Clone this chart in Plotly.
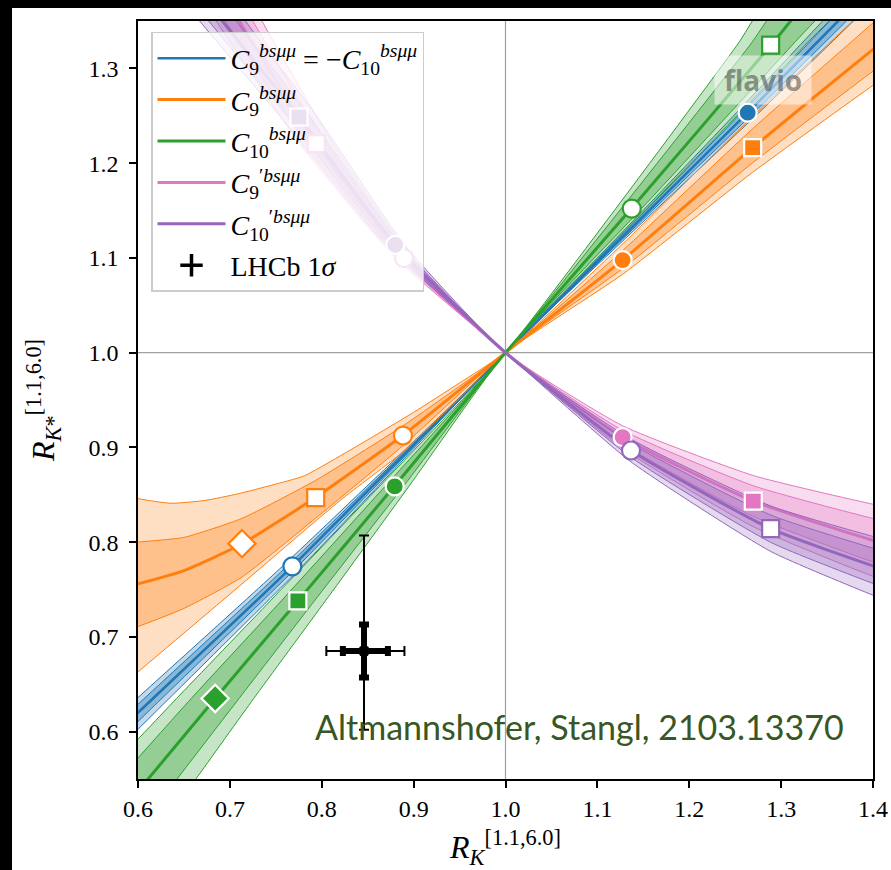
import plotly.graph_objects as go

# ---------------- data ----------------
x_ticks = [0.6, 0.7, 0.8, 0.9, 1.0, 1.1, 1.2, 1.3, 1.4]
y_ticks = [0.6, 0.7, 0.8, 0.9, 1.0, 1.1, 1.2, 1.3]

series_names = [
    "<i>C</i><sub>9</sub><sup><i>bsμμ</i></sup> = −<i>C</i><sub>10</sub><sup><i>bsμμ</i></sup>",
    "<i>C</i><sub>9</sub><sup><i>bsμμ</i></sup>",
    "<i>C</i><sub>10</sub><sup><i>bsμμ</i></sup>",
    "<i>C</i><sub>9</sub><sup>′<i>bsμμ</i></sup>",
    "<i>C</i><sub>10</sub><sup>′<i>bsμμ</i></sup>",
]

# C9 = -C10 (blue)
blue_x = [0.55, 0.6, 0.768, 1.0, 1.2636, 1.362, 1.42]
blue_y = [0.574, 0.62, 0.7745, 1.0, 1.2532, 1.35, 1.407]
blue_2s_a_x = [0.5296, 0.5818, 0.7572, 1.0, 1.2514, 1.3452, 1.4005]
blue_2s_b_x = [0.5704, 0.6182, 0.7788, 1.0, 1.2758, 1.3788, 1.4395]
blue_1s_a_x = [0.5389, 0.5901, 0.7621, 1.0, 1.2570, 1.3529, 1.4094]
blue_1s_b_x = [0.5611, 0.6099, 0.7739, 1.0, 1.2702, 1.3711, 1.4306]
blue_mk_x = [0.768, 1.2636]
blue_mk_y = [0.7745, 1.2532]
blue_mk_sym = ["circle", "circle"]
blue_mk_fill = [False, True]

# C9 (orange)
orange_x = [0.55, 0.6, 0.65, 0.713, 0.793, 0.888, 1.0, 1.1275, 1.269, 1.4, 1.45]
orange_y = [0.749, 0.756, 0.770, 0.798, 0.847, 0.9125, 1.0, 1.0977, 1.2163, 1.32, 1.358]
orange_2s_up_x = [0.55, 0.6, 0.636, 0.673, 0.709, 0.745, 0.781, 0.85, 0.9, 0.95, 1.0, 1.1275, 1.269, 1.378, 1.45]
orange_2s_up_y = [0.862, 0.846, 0.841, 0.844, 0.851, 0.860, 0.870, 0.908, 0.937, 0.968, 1.0, 1.1147, 1.2493, 1.35, 1.413]
orange_2s_lo_x = [0.55, 0.6, 0.7, 0.82, 0.888, 0.95, 1.0, 1.1275, 1.269, 1.4, 1.45]
orange_2s_lo_y = [0.622, 0.663, 0.745, 0.844, 0.895, 0.952, 1.0, 1.0827, 1.1903, 1.282, 1.315]
orange_1s_up_y = [0.795, 0.800, 0.805, 0.825, 0.865, 0.9225, 1.0, 1.1077, 1.2363, 1.348, 1.390]
orange_1s_lo_y = [0.697, 0.711, 0.730, 0.763, 0.825, 0.9015, 1.0, 1.0887, 1.2003, 1.297, 1.332]
orange_mk_x = [0.7132, 0.7934, 0.8884, 1.1275, 1.269]
orange_mk_y = [0.7984, 0.8469, 0.9125, 1.0977, 1.2163]
orange_mk_sym = ["diamond", "square", "circle", "circle", "square"]
orange_mk_fill = [False, False, False, True, True]

# C10 (green)
green_x = [0.525, 0.611, 0.684, 0.774, 0.879, 1.0, 1.137, 1.289, 1.36]
green_y = [0.45, 0.55, 0.635, 0.738, 0.859, 1.0, 1.152, 1.3245, 1.41]
green_2s_a_x = [0.462, 0.559, 0.642, 0.744, 0.863, 1.0, 1.120, 1.252, 1.313]
green_2s_b_x = [0.588, 0.663, 0.726, 0.804, 0.895, 1.0, 1.154, 1.326, 1.407]
green_1s_a_x = [0.4865, 0.5795, 0.658, 0.756, 0.869, 1.0, 1.126, 1.266, 1.331]
green_1s_b_x = [0.5635, 0.6425, 0.710, 0.792, 0.889, 1.0, 1.148, 1.312, 1.389]
green_mk_x = [0.684, 0.774, 0.8794, 1.1374, 1.2886]
green_mk_y = [0.635, 0.738, 0.8588, 1.152, 1.3245]
green_mk_sym = ["diamond", "square", "circle", "circle", "square"]
green_mk_fill = [True, True, True, False, False]

# C9' (pink)
pink_x = [0.68, 0.71, 0.794, 0.8895, 1.0, 1.1275, 1.2697, 1.4, 1.45]
pink_y = [1.40, 1.35, 1.2206, 1.0998, 1.0, 0.9108, 0.8433, 0.802, 0.79]
pink_2s_a_x = [0.71, 0.735, 0.812, 0.8985, 1.0, 1.1275, 1.2697, 1.4, 1.45]
pink_2s_a_y = [1.40, 1.35, 1.2206, 1.0998, 1.0, 0.9228, 0.8703, 0.840, 0.831]
pink_2s_b_x = [0.65, 0.685, 0.776, 0.8805, 1.0, 1.1275, 1.2697, 1.4, 1.45]
pink_2s_b_y = [1.40, 1.35, 1.2206, 1.0998, 1.0, 0.8988, 0.8163, 0.764, 0.749]
pink_1s_a_x = [0.698, 0.725, 0.8048, 0.8949, 1.0, 1.1275, 1.2697, 1.4, 1.45]
pink_1s_a_y = [1.40, 1.35, 1.2206, 1.0998, 1.0, 0.918, 0.8595, 0.825, 0.815]
pink_1s_b_x = [0.662, 0.695, 0.7832, 0.8841, 1.0, 1.1275, 1.2697, 1.4, 1.45]
pink_1s_b_y = [1.40, 1.35, 1.2206, 1.0998, 1.0, 0.9036, 0.8271, 0.779, 0.765]
pink_mk_x = [0.794, 0.8895, 1.1275, 1.2697]
pink_mk_y = [1.2206, 1.0998, 0.9108, 0.8433]
pink_mk_sym = ["square", "circle", "circle", "square"]
pink_mk_fill = [False, False, True, True]

# C10' (purple)
purple_x = [0.655, 0.692, 0.7752, 0.880, 1.0, 1.1366, 1.2886, 1.4, 1.45]
purple_y = [1.40, 1.35, 1.2487, 1.1138, 1.0, 0.8967, 0.8142, 0.775, 0.76]
purple_2s_a_x = [0.685, 0.717, 0.7952, 0.890, 1.0, 1.1366, 1.2886, 1.4, 1.45]
purple_2s_a_y = [1.40, 1.35, 1.2487, 1.1138, 1.0, 0.9087, 0.8382, 0.806, 0.794]
purple_2s_b_x = [0.625, 0.667, 0.7552, 0.870, 1.0, 1.1366, 1.2886, 1.4, 1.45]
purple_2s_b_y = [1.40, 1.35, 1.2487, 1.1138, 1.0, 0.8847, 0.7902, 0.744, 0.726]
purple_1s_a_x = [0.673, 0.707, 0.7872, 0.886, 1.0, 1.1366, 1.2886, 1.4, 1.45]
purple_1s_a_y = [1.40, 1.35, 1.2487, 1.1138, 1.0, 0.9039, 0.8286, 0.7936, 0.7804]
purple_1s_b_x = [0.637, 0.677, 0.7632, 0.874, 1.0, 1.1366, 1.2886, 1.4, 1.45]
purple_1s_b_y = [1.40, 1.35, 1.2487, 1.1138, 1.0, 0.8895, 0.7998, 0.7564, 0.7396]
purple_mk_x = [0.7752, 0.880, 1.1366, 1.2886]
purple_mk_y = [1.2487, 1.1138, 0.8967, 0.8142]
purple_mk_sym = ["square", "circle", "circle", "square"]
purple_mk_fill = [True, True, False, False]

# LHCb measurement
lhcb_x = [0.846]
lhcb_y = [0.685]
lhcb_tot_xp, lhcb_tot_xm = [0.044], [0.041]
lhcb_tot_yp, lhcb_tot_ym = [0.122], [0.083]
lhcb_in_xp, lhcb_in_xm = [0.026], [0.023]
lhcb_in_yp, lhcb_in_ym = [0.028], [0.028]

# ---------------- styling ----------------
BLUE, ORANGE, GREEN, PINK, PURPLE = "#1f77b4", "#ff7f0e", "#2ca02c", "#e377c2", "#9467bd"
SERIF = "Liberation Serif"


def rgba(h, a):
    h = h.lstrip("#")
    return "rgba(%d,%d,%d,%.3f)" % (int(h[0:2], 16), int(h[2:4], 16), int(h[4:6], 16), a)


fig = go.Figure()


def band(ax, ay, bx, by, color, alpha, group):
    fig.add_trace(go.Scatter(
        x=list(ax) + list(bx)[::-1], y=list(ay) + list(by)[::-1],
        mode="lines", fill="toself", fillcolor=rgba(color, alpha), legendgroup=group,
        line=dict(color=color, width=1, shape="spline", smoothing=0.5),
        hoverinfo="skip", showlegend=False))


def center(x, y, color, name, rank, group, width=3):
    fig.add_trace(go.Scatter(
        x=x, y=y, mode="lines", name=name, legendrank=rank, legendgroup=group,
        line=dict(color=color, width=width, shape="spline", smoothing=0.5),
        hoverinfo="skip", showlegend=True))


def markers(x, y, syms, fills, color, group):
    sizes = {"circle": 18, "square": 17, "diamond": 21}
    fig.add_trace(go.Scatter(
        x=x, y=y, mode="markers", showlegend=False, hoverinfo="skip", legendgroup=group,
        marker=dict(symbol=syms, size=[sizes[s] for s in syms], opacity=1,
                    color=[color if f else "white" for f in fills],
                    line=dict(color=["white" if f else color for f in fills], width=2.2))))


# blue
band(blue_2s_a_x, blue_y, blue_2s_b_x, blue_y, BLUE, 0.28, "g1")
band(blue_1s_a_x, blue_y, blue_1s_b_x, blue_y, BLUE, 0.35, "g1")
center(blue_x, blue_y, BLUE, series_names[0], 1, "g1", 2.5)
# orange
band(orange_2s_up_x, orange_2s_up_y, orange_2s_lo_x, orange_2s_lo_y, ORANGE, 0.25, "g2")
band(orange_x, orange_1s_up_y, orange_x, orange_1s_lo_y, ORANGE, 0.3, "g2")
center(orange_x, orange_y, ORANGE, series_names[1], 2, "g2")
# green
band(green_2s_a_x, green_y, green_2s_b_x, green_y, GREEN, 0.27, "g3")
band(green_1s_a_x, green_y, green_1s_b_x, green_y, GREEN, 0.32, "g3")
center(green_x, green_y, GREEN, series_names[2], 3, "g3")
# pink
band(pink_2s_a_x, pink_2s_a_y, pink_2s_b_x, pink_2s_b_y, PINK, 0.25, "g4")
band(pink_1s_a_x, pink_1s_a_y, pink_1s_b_x, pink_1s_b_y, PINK, 0.3, "g4")
center(pink_x, pink_y, PINK, series_names[3], 4, "g4")
# purple
band(purple_2s_a_x, purple_2s_a_y, purple_2s_b_x, purple_2s_b_y, PURPLE, 0.25, "g5")
band(purple_1s_a_x, purple_1s_a_y, purple_1s_b_x, purple_1s_b_y, PURPLE, 0.3, "g5")
center(purple_x, purple_y, PURPLE, series_names[4], 5, "g5")

markers(blue_mk_x, blue_mk_y, blue_mk_sym, blue_mk_fill, BLUE, "g1")
markers(orange_mk_x, orange_mk_y, orange_mk_sym, orange_mk_fill, ORANGE, "g2")
markers(green_mk_x, green_mk_y, green_mk_sym, green_mk_fill, GREEN, "g3")
markers(pink_mk_x, pink_mk_y, pink_mk_sym, pink_mk_fill, PINK, "g4")
markers(purple_mk_x, purple_mk_y, purple_mk_sym, purple_mk_fill, PURPLE, "g5")

# LHCb point: total (thin) and inner (thick) error bars
fig.add_trace(go.Scatter(
    x=lhcb_x, y=lhcb_y, mode="markers", showlegend=False, hoverinfo="skip", legendgroup="g6",
    marker=dict(color="black", size=9),
    error_x=dict(type="data", array=lhcb_tot_xp, arrayminus=lhcb_tot_xm, color="black", thickness=2, width=5),
    error_y=dict(type="data", array=lhcb_tot_yp, arrayminus=lhcb_tot_ym, color="black", thickness=2, width=5)))
fig.add_trace(go.Scatter(
    x=lhcb_x, y=lhcb_y, mode="markers", showlegend=False, hoverinfo="skip", legendgroup="g6",
    marker=dict(color="black", size=12),
    error_x=dict(type="data", array=lhcb_in_xp, arrayminus=lhcb_in_xm, color="black", thickness=6, width=5),
    error_y=dict(type="data", array=lhcb_in_yp, arrayminus=lhcb_in_ym, color="black", thickness=6, width=5)))
fig.add_trace(go.Scatter(
    x=[None], y=[None], mode="markers", name="LHCb 1<i>σ</i>", legendrank=6, legendgroup="g6",
    marker=dict(symbol="cross-thin", size=26, color="black", line=dict(color="black", width=3.5))))

# reference lines at 1
fig.add_shape(type="line", xref="x", yref="paper", x0=1.0, x1=1.0, y0=0, y1=1,
              line=dict(color="#a0a0a0", width=1.2), layer="below")
fig.add_shape(type="line", xref="paper", yref="y", x0=0, x1=1, y0=1.0, y1=1.0,
              line=dict(color="#a0a0a0", width=1.2), layer="below")

# black strips at the left and top of the picture
fig.add_shape(type="rect", xref="paper", yref="paper", x0=-0.2, x1=-0.1714, y0=-0.13, y1=1.04,
              fillcolor="black", line=dict(width=0), layer="below")
fig.add_shape(type="rect", xref="paper", yref="paper", x0=-0.2, x1=1.05, y0=1.0172, y1=1.04,
              fillcolor="black", line=dict(width=0), layer="below")

fig.add_annotation(x=1.0806, y=0.605, xref="x", yref="y", showarrow=False,
                   text="Altmannshofer, Stangl, 2103.13370",
                   font=dict(family="Lato", size=34, color="#385723"))
fig.add_annotation(x=1.2803, y=1.2877, xref="x", yref="y", showarrow=False,
                   text="<b>flavio</b>", width=94, height=46, bgcolor="rgba(255,255,255,0.5)",
                   font=dict(family="Open Sans", size=28, color="rgba(70,70,70,0.55)"))

fig.update_layout(
    width=891, height=870,
    margin=dict(l=138, r=18, t=21, b=91),
    paper_bgcolor="white", plot_bgcolor="white",
    font=dict(family=SERIF, color="black"),
    showlegend=True,
    legend=dict(x=0.0177, y=0.9855, xanchor="left", yanchor="top",
                bgcolor="rgba(255,255,255,0.8)", bordercolor="#cccccc", borderwidth=1.5,
                font=dict(family=SERIF, size=28), tracegroupgap=2, itemwidth=68),
    xaxis=dict(range=[0.6, 1.4], tickvals=x_ticks, ticktext=["%.1f" % v for v in x_ticks],
               ticks="outside", ticklen=7, tickwidth=1.5, tickcolor="black",
               showline=True, linecolor="black", linewidth=1.5, mirror=True,
               showgrid=False, zeroline=False, tickfont=dict(size=24),
               title=dict(text="<i>R</i><sub><i>K</i></sub><sup>[1.1,6.0]</sup>",
                          font=dict(size=32), standoff=16),
               automargin=False),
    yaxis=dict(range=[0.55, 1.35], tickvals=y_ticks, ticktext=["%.1f" % v for v in y_ticks],
               ticks="outside", ticklen=7, tickwidth=1.5, tickcolor="black",
               showline=True, linecolor="black", linewidth=1.5, mirror=True,
               showgrid=False, zeroline=False, tickfont=dict(size=24), ticklabelstandoff=6,
               title=dict(text="<i>R</i><sub><i>K</i>*</sub><sup>[1.1,6.0]</sup>",
                          font=dict(size=32), standoff=24),
               automargin=False),
)

fig.write_html("out.html")
